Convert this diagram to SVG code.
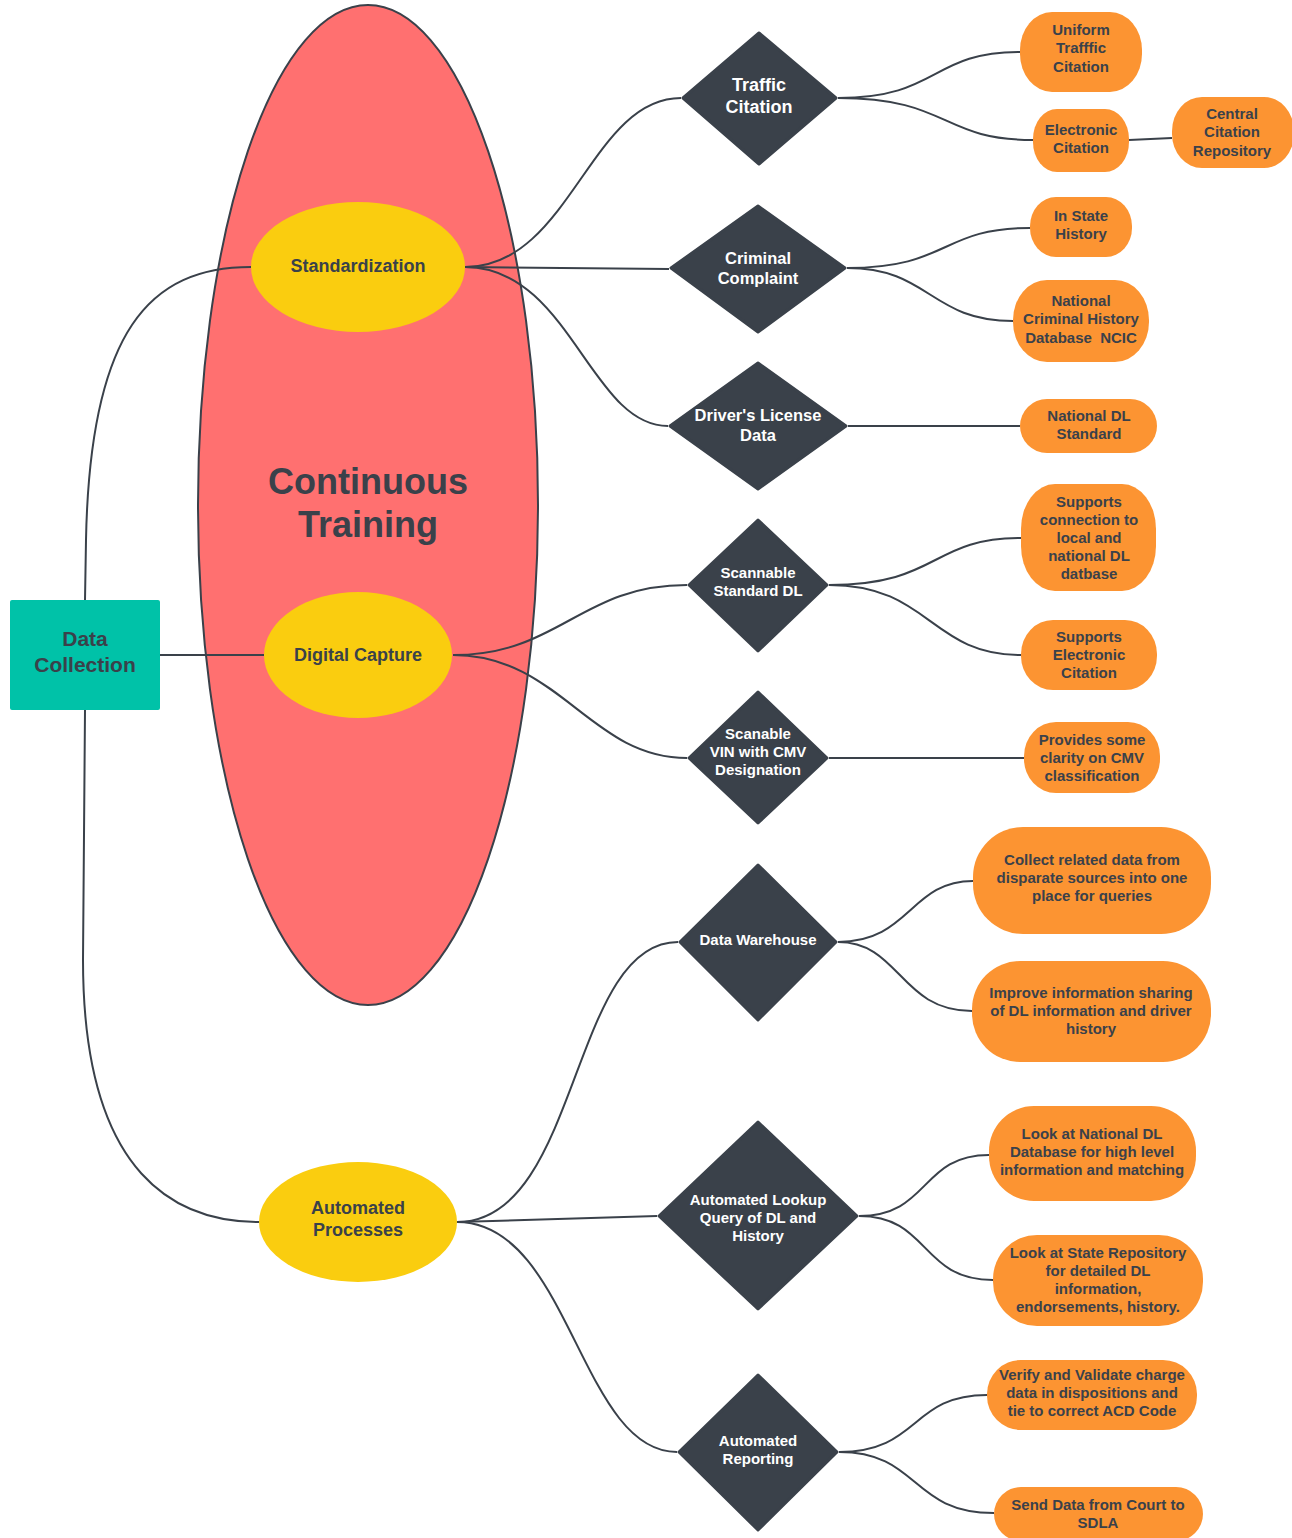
<svg xmlns="http://www.w3.org/2000/svg" width="1292" height="1538" viewBox="0 0 1292 1538">
<style>
.conn{fill:none;stroke:#3A414A;stroke-width:2}
.dia{fill:#3A414A;stroke:#3A414A;stroke-width:3;stroke-linejoin:round}
.pill{fill:#FC9432}
.yel{fill:#FACD0F}
text{font-family:"Liberation Sans",Arial,sans-serif;font-weight:bold;text-anchor:middle}
.ot{fill:#3A414A;font-size:15px}
.dt{fill:#FFFFFF;font-size:15px}
.yt{fill:#3A414A;font-size:18px}
</style>
<rect width="1292" height="1538" fill="#FFFFFF"/>
<g id="continuous-training">
<ellipse cx="368" cy="505" rx="170" ry="500" fill="#FF7070" stroke="#3A414A" stroke-width="2"/>
<text x="368" y="494" fill="#3A414A" font-size="36">Continuous</text>
<text x="368" y="537" fill="#3A414A" font-size="36">Training</text>
</g>
<g id="connectors">
<path class="conn" d="M85,600 L86,540 C90,330 150,267 251,267"/>
<path class="conn" d="M160,655 L264,655"/>
<path class="conn" d="M85,710 L83,960 C83,1180 180,1222 259,1222"/>
<path class="conn" d="M465,267 C570,267 590,98 681,98"/>
<path class="conn" d="M465,267 L669,269"/>
<path class="conn" d="M465,267 C570,267 590,426 668,426"/>
<path class="conn" d="M453,655 C560,655 580,585 687,585"/>
<path class="conn" d="M453,655 C560,655 590,758 687,758"/>
<path class="conn" d="M457,1222 C580,1222 570,942 678,942"/>
<path class="conn" d="M457,1222 L657,1216"/>
<path class="conn" d="M457,1222 C570,1222 580,1452 677,1452"/>
<path class="conn" d="M838,98 C940,98 930,52 1020,52"/>
<path class="conn" d="M838,98 C950,98 940,140 1033,140"/>
<path class="conn" d="M1129,140 L1172,138"/>
<path class="conn" d="M847,268 C950,268 940,228 1030,228"/>
<path class="conn" d="M847,268 C930,268 930,321 1013,321"/>
<path class="conn" d="M848,426 L1020,426"/>
<path class="conn" d="M829,585 C940,585 930,538 1021,538"/>
<path class="conn" d="M829,585 C930,585 930,655 1021,655"/>
<path class="conn" d="M829,758 L1024,758"/>
<path class="conn" d="M838,942 C910,942 910,881 973,881"/>
<path class="conn" d="M838,942 C900,942 900,1011 972,1011"/>
<path class="conn" d="M859,1216 C930,1216 920,1155 989,1155"/>
<path class="conn" d="M859,1216 C930,1216 920,1280 993,1280"/>
<path class="conn" d="M839,1452 C920,1452 910,1395 987,1395"/>
<path class="conn" d="M839,1452 C920,1452 910,1513 994,1513"/>
</g>
<g id="data-collection">
<rect x="10" y="600" width="150" height="110" rx="2" fill="#00C2A8"/>
<text x="85" y="645.5" fill="#3A414A" font-size="21">Data</text>
<text x="85" y="671.5" fill="#3A414A" font-size="21">Collection</text>
</g>
<g id="standardization">
<ellipse class="yel" cx="358" cy="267" rx="107" ry="65"/>
<text class="yt" x="358" y="271.5">Standardization</text>
</g>
<g id="digital-capture">
<ellipse class="yel" cx="358" cy="655" rx="94" ry="63"/>
<text class="yt" x="358" y="660.5">Digital Capture</text>
</g>
<g id="automated-processes">
<ellipse class="yel" cx="358" cy="1222" rx="99" ry="60"/>
<text class="yt" x="358" y="1213.5">Automated</text>
<text class="yt" x="358" y="1235.5">Processes</text>
</g>
<g id="traffic-citation">
<polygon class="dia" points="759,33 836,98 759,164 683,98"/>
<text class="dt" x="759" y="90.5" font-size="18" style="font-size:18px">Traffic</text>
<text class="dt" x="759" y="112.5" style="font-size:18px">Citation</text>
</g>
<g id="criminal-complaint">
<polygon class="dia" points="758,206 845,268 758,332 671,268"/>
<text class="dt" x="758" y="264" style="font-size:16.5px">Criminal</text>
<text class="dt" x="758" y="284" style="font-size:16.5px">Complaint</text>
</g>
<g id="drivers-license-data">
<polygon class="dia" points="758,363 846,426 758,489 670,426"/>
<text class="dt" x="758" y="421" style="font-size:16.5px">Driver's License</text>
<text class="dt" x="758" y="441" style="font-size:16.5px">Data</text>
</g>
<g id="scannable-standard-dl">
<polygon class="dia" points="758,520 827,585 758,651 689,585"/>
<text class="dt" x="758" y="578.4">Scannable</text>
<text class="dt" x="758" y="596.4">Standard DL</text>
</g>
<g id="scanable-vin">
<polygon class="dia" points="758,692 827,758 758,823 689,758"/>
<text class="dt" x="758" y="739.4">Scanable</text>
<text class="dt" x="758" y="757.4">VIN with CMV</text>
<text class="dt" x="758" y="775.4">Designation</text>
</g>
<g id="data-warehouse">
<polygon class="dia" points="758,865 836,942 758,1020 680,942"/>
<text class="dt" x="758" y="945.4">Data Warehouse</text>
</g>
<g id="automated-lookup">
<polygon class="dia" points="758,1122 857,1216 758,1309 659,1216"/>
<text class="dt" x="758" y="1205.4">Automated Lookup</text>
<text class="dt" x="758" y="1223.4">Query of DL and</text>
<text class="dt" x="758" y="1241.4">History</text>
</g>
<g id="automated-reporting">
<polygon class="dia" points="758,1375 837,1452 758,1530 679,1452"/>
<text class="dt" x="758" y="1446.4">Automated</text>
<text class="dt" x="758" y="1464.4">Reporting</text>
</g>
<g id="uniform-traffic-citation">
<rect class="pill" x="1020" y="12" width="122" height="80" rx="32" ry="38"/>
<text class="ot" x="1081" y="35.4">Uniform</text>
<text class="ot" x="1081" y="53.4">Trafffic</text>
<text class="ot" x="1081" y="72.4">Citation</text>
</g>
<g id="electronic-citation">
<rect class="pill" x="1033" y="109" width="96" height="63" rx="24" ry="30"/>
<text class="ot" x="1081" y="135.4">Electronic</text>
<text class="ot" x="1081" y="153.4">Citation</text>
</g>
<g id="central-citation-repository">
<rect class="pill" x="1172" y="97" width="122" height="71" rx="30" ry="34"/>
<text class="ot" x="1232" y="119.4">Central</text>
<text class="ot" x="1232" y="137.4">Citation</text>
<text class="ot" x="1232" y="156.4">Repository</text>
</g>
<g id="in-state-history">
<rect class="pill" x="1030" y="197" width="102" height="60" rx="26" ry="29"/>
<text class="ot" x="1081" y="221.4">In State</text>
<text class="ot" x="1081" y="239.4">History</text>
</g>
<g id="ncic">
<rect class="pill" x="1013" y="280" width="136" height="82" rx="34" ry="40"/>
<text class="ot" x="1081" y="306.4">National</text>
<text class="ot" x="1081" y="324.4">Criminal History</text>
<text class="ot" x="1081" y="343.4" xml:space="preserve">Database  NCIC</text>
</g>
<g id="national-dl-standard">
<rect class="pill" x="1020" y="399" width="137" height="54" rx="27" ry="27"/>
<text class="ot" x="1089" y="421.4">National DL</text>
<text class="ot" x="1089" y="439.4">Standard</text>
</g>
<g id="supports-connection">
<rect class="pill" x="1021" y="484" width="135" height="107" rx="34" ry="45"/>
<text class="ot" x="1089" y="507.4">Supports</text>
<text class="ot" x="1089" y="525.4">connection to</text>
<text class="ot" x="1089" y="543.4">local and</text>
<text class="ot" x="1089" y="561.4">national DL</text>
<text class="ot" x="1089" y="579.4">datbase</text>
</g>
<g id="supports-electronic-citation">
<rect class="pill" x="1021" y="620" width="136" height="70" rx="32" ry="34"/>
<text class="ot" x="1089" y="642.4">Supports</text>
<text class="ot" x="1089" y="660.4">Electronic</text>
<text class="ot" x="1089" y="678.4">Citation</text>
</g>
<g id="provides-clarity">
<rect class="pill" x="1024" y="722" width="136" height="71" rx="32" ry="34"/>
<text class="ot" x="1092" y="745.4">Provides some</text>
<text class="ot" x="1092" y="763.4">clarity on CMV</text>
<text class="ot" x="1092" y="781.4">classification</text>
</g>
<g id="collect-related-data">
<rect class="pill" x="973" y="827" width="238" height="107" rx="50" ry="50"/>
<text class="ot" x="1092" y="865.4">Collect related data from</text>
<text class="ot" x="1092" y="883.4">disparate sources into one</text>
<text class="ot" x="1092" y="901.4">place for queries</text>
</g>
<g id="improve-information-sharing">
<rect class="pill" x="972" y="961" width="239" height="101" rx="48" ry="48"/>
<text class="ot" x="1091" y="998.4">Improve information sharing</text>
<text class="ot" x="1091" y="1016.4">of DL information and driver</text>
<text class="ot" x="1091" y="1034.4">history</text>
</g>
<g id="look-national-dl">
<rect class="pill" x="989" y="1106" width="207" height="95" rx="45" ry="45"/>
<text class="ot" x="1092" y="1139.4">Look at National DL</text>
<text class="ot" x="1092" y="1157.4">Database for high level</text>
<text class="ot" x="1092" y="1175.4">information and matching</text>
</g>
<g id="look-state-repository">
<rect class="pill" x="993" y="1235" width="210" height="91" rx="44" ry="44"/>
<text class="ot" x="1098" y="1258.4">Look at State Repository</text>
<text class="ot" x="1098" y="1276.4">for detailed DL</text>
<text class="ot" x="1098" y="1294.4">information,</text>
<text class="ot" x="1098" y="1312.4">endorsements, history.</text>
</g>
<g id="verify-validate">
<rect class="pill" x="987" y="1360" width="210" height="70" rx="34" ry="34"/>
<text class="ot" x="1092" y="1380.4">Verify and Validate charge</text>
<text class="ot" x="1092" y="1398.4">data in dispositions and</text>
<text class="ot" x="1092" y="1416.4">tie to correct ACD Code</text>
</g>
<g id="send-data">
<rect class="pill" x="994" y="1487" width="209" height="54" rx="27" ry="27"/>
<text class="ot" x="1098" y="1510.4">Send Data from Court to</text>
<text class="ot" x="1098" y="1528.4">SDLA</text>
</g>
</svg>
